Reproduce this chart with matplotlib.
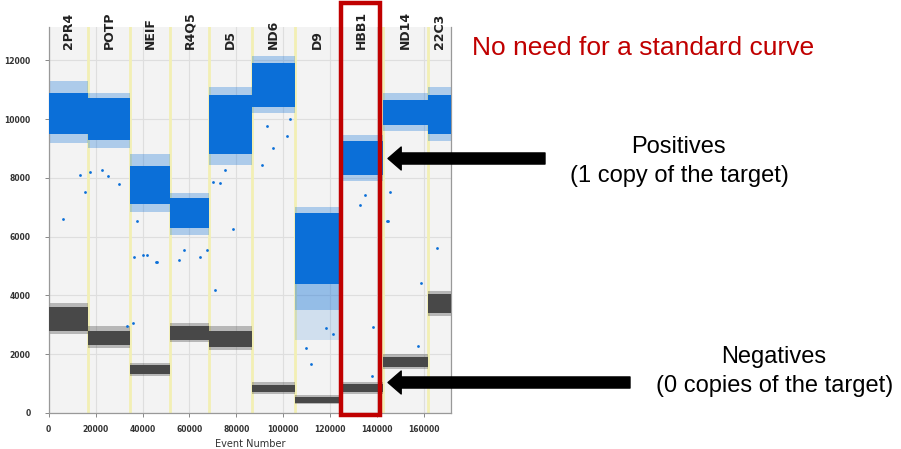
import matplotlib
matplotlib.use("Agg")
import matplotlib.pyplot as plt
from matplotlib.patches import Rectangle

# wells (one column of droplets each)
wells = ['2PR4', 'POTP', 'NEIF', 'R4Q5', 'D5', 'ND6', 'D9', 'HBB1', 'ND14', '22C3']
well_start = [0, 16900, 34700, 51700, 68500, 86800, 105000, 124200, 142400, 161600]
well_end = [16900, 34700, 51700, 68500, 86800, 105000, 124200, 142400, 161600, 171500]

# positive droplet clusters (amplitude): dense core and sparse edge
pos_core_lo = [9500, 9300, 7100, 6300, 8800, 10400, 4400, 8100, 9800, 9500]
pos_core_hi = [10900, 10700, 8400, 7300, 10800, 11900, 6800, 9250, 10650, 10800]
pos_edge_lo = [9200, 9000, 6850, 6050, 8450, 10200, 3500, 7900, 9600, 9250]
pos_edge_hi = [11300, 10900, 8800, 7500, 11100, 12150, 7000, 9450, 10900, 11100]

# negative droplet clusters
neg_core_lo = [2800, 2300, 1330, 2500, 2250, 700, 350, 700, 1560, 3400]
neg_core_hi = [3600, 2800, 1630, 2950, 2800, 950, 560, 980, 1900, 4050]
neg_edge_lo = [2700, 2200, 1270, 2400, 2150, 650, 300, 650, 1500, 3300]
neg_edge_hi = [3750, 2950, 1700, 3050, 2950, 1050, 620, 1060, 1990, 4150]

# D9 rain tail
rain_lo = [2500]
rain_hi = [4400]
rain_well = [6]

# single stray droplets
stray_x = [6200, 13350, 15480, 22600, 17600, 30100, 25400, 37500, 36500, 42000,
           45800, 55700, 57800, 64500, 67400, 78500, 69900, 73000, 75200, 36100,
           33500, 138100, 137700, 157600, 158600, 165700, 144400, 70900, 40300,
           46000, 93000, 95800, 102900, 90800, 101500, 134900, 132700, 145500,
           144800, 112000, 118000, 109500, 121000]
stray_y = [6610, 8110, 7510, 8260, 8190, 7800, 8050, 6540, 5300, 5380,
           5130, 5210, 5550, 5300, 5550, 6270, 7870, 7830, 8280, 3050,
           2950, 2920, 1260, 2280, 4420, 5610, 6520, 4190, 5380,
           5120, 9760, 9020, 9990, 8450, 9420, 7430, 7090, 7510,
           6520, 1650, 2900, 2200, 2700]

x_ticks = [0, 20000, 40000, 60000, 80000, 100000, 120000, 140000, 160000]
y_ticks = [0, 2000, 4000, 6000, 8000, 10000, 12000]

blue = '#0b6fd8'
grey = '#484848'

fig = plt.figure(figsize=(9.01, 4.49), dpi=100)
ax = fig.add_axes([48.7 / 901, 1 - 413 / 449, (451 - 48.7) / 901, (413 - 27) / 449])
ax.set_facecolor('#f3f3f3')
ax.set_xlim(0, 171500)
ax.set_ylim(0, 13130)

for v in x_ticks:
    ax.axvline(v, color='#dedede', lw=0.8, zorder=0)
for v in y_ticks:
    ax.axhline(v, color='#dedede', lw=0.8, zorder=0)
for b in well_start[1:]:
    ax.axvline(b, color='#f2efb4', lw=2.0, zorder=0.5)

widths = [e - s for s, e in zip(well_start, well_end)]
ax.bar(well_start, [h - l for l, h in zip(pos_edge_lo, pos_edge_hi)], width=widths,
       bottom=pos_edge_lo, align='edge', color=blue, alpha=0.3, lw=0, zorder=2)
ax.bar(well_start, [h - l for l, h in zip(pos_core_lo, pos_core_hi)], width=widths,
       bottom=pos_core_lo, align='edge', color=blue, lw=0, zorder=3)
ax.bar(well_start, [h - l for l, h in zip(neg_edge_lo, neg_edge_hi)], width=widths,
       bottom=neg_edge_lo, align='edge', color=grey, alpha=0.35, lw=0, zorder=2)
ax.bar(well_start, [h - l for l, h in zip(neg_core_lo, neg_core_hi)], width=widths,
       bottom=neg_core_lo, align='edge', color=grey, lw=0, zorder=3)
ax.bar([well_start[i] for i in rain_well], [h - l for l, h in zip(rain_lo, rain_hi)],
       width=[widths[i] for i in rain_well], bottom=rain_lo, align='edge',
       color=blue, alpha=0.15, lw=0, zorder=2)
ax.scatter(stray_x, stray_y, s=4, color=blue, lw=0, zorder=4)

for name, s, e in zip(wells, well_start, well_end):
    ax.text((s + e) / 2, 12380, name, rotation=90, ha='center', va='bottom',
            fontsize=9, fontweight='bold', color='#222222', clip_on=False)

# highlight HBB1
ax.add_patch(Rectangle((124600, -80), 141300 - 124600, 13950 + 80, fill=False,
                       edgecolor='#c00000', lw=3.2, clip_on=False, zorder=6))

ax.spines['top'].set_visible(False)
for side in ['left', 'bottom', 'right']:
    ax.spines[side].set_color('#999999')
    ax.spines[side].set_linewidth(0.9)

ax.set_xticks(x_ticks)
ax.set_yticks(y_ticks)
ax.tick_params(axis='both', length=3, width=0.7, color='#888888', labelsize=5.5,
               labelcolor='#333333', pad=6)
ax.tick_params(axis='y', pad=10)
for lab in ax.get_xticklabels() + ax.get_yticklabels():
    lab.set_fontweight('bold')
ax.set_xlabel('Event Number', fontsize=7, color='#333333', labelpad=3)

# annotations
tf = ['Liberation Sans', 'DejaVu Sans']
fig.text(643 / 901, 1 - 55 / 449, 'No need for a standard curve', color='#c00000',
         fontsize=19, family=tf, ha='center', va='baseline')
fig.text(678 / 901, 1 - 153.3 / 449, 'Positives', fontsize=17, family=tf,
         ha='center', va='baseline')
fig.text(679 / 901, 1 - 181.7 / 449, '(1 copy of the target)', fontsize=17, family=tf,
         ha='center', va='baseline')
fig.text(774 / 901, 1 - 363.3 / 449, 'Negatives', fontsize=17, family=tf,
         ha='center', va='baseline')
fig.text(774.5 / 901, 1 - 391.7 / 449, '(0 copies of the target)', fontsize=17, family=tf,
         ha='center', va='baseline')

arrow = dict(arrowstyle='simple,head_length=0.95,head_width=1.65,tail_width=0.8',
             color='black', shrinkA=0, shrinkB=0, mutation_scale=10)
ax.annotate('', xy=(388, 449 - 158.5), xytext=(545, 449 - 158.5),
            xycoords='figure pixels', textcoords='figure pixels', arrowprops=arrow)
ax.annotate('', xy=(388, 449 - 382.5), xytext=(630, 449 - 382.5),
            xycoords='figure pixels', textcoords='figure pixels', arrowprops=arrow)

fig.savefig('out.png', dpi=100)
